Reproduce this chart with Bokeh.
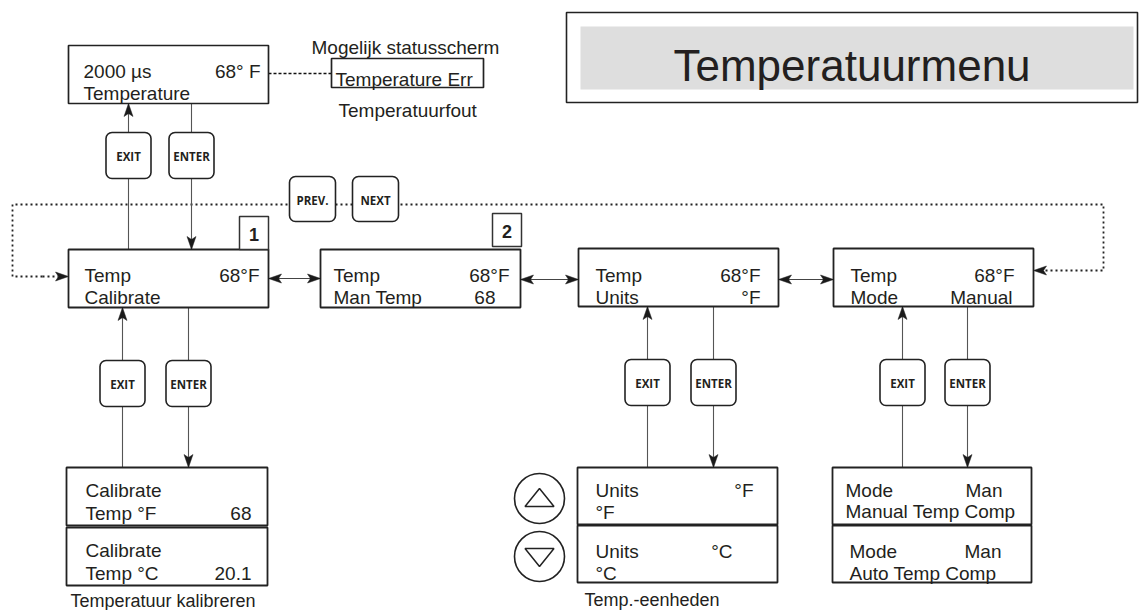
from bokeh.plotting import figure
from bokeh.models import Range1d, ColumnDataSource
from bokeh.embed import file_html
from bokeh.resources import INLINE
from bokeh.core.properties import value

# ---------------- content (texts) ----------------
title_text = "Temperatuurmenu"

status_l1_left = "2000 µs"
status_l1_right = "68° F"
status_l2_left = "Temperature"
alt_status_title = "Mogelijk statusscherm"
alt_status_text = "Temperature Err"
alt_status_caption = "Temperatuurfout"

menu_numbers = ["1", "2"]
menu_l1_left = ["Temp", "Temp", "Temp", "Temp"]
menu_l1_right = ["68°F", "68°F", "68°F", "68°F"]
menu_l2_left = ["Calibrate", "Man Temp", "Units", "Mode"]
menu_l2_right = ["", "68", "°F", "Manual"]

sub_l1_left = ["Calibrate", "Calibrate", "Units", "Units", "Mode", "Mode"]
sub_l1_right = ["", "", "°F", "°C", "Man", "Man"]
sub_l2_left = ["Temp  °F", "Temp  °C", "°F", "°C", "Manual Temp Comp", "Auto Temp Comp"]
sub_l2_right = ["68", "20.1", "", "", "", ""]
sub_captions = ["Temperatuur kalibreren", "Temp.-eenheden"]

key_labels = ["EXIT", "ENTER"]
nav_labels = ["PREV.", "NEXT"]

# ---------------- layout (page pixel coordinates) ----------------
FONT = value("Liberation Sans")
KEYFONT = value("Open Sans")
INK = "#231f20"
GREY_LINE = "#555555"

status_box = dict(l=68, r=268, t=45, b=103)
alt_box = dict(l=331, r=483, t=58, b=87)
title_outer = dict(l=566, r=1137, t=12, b=102)
title_inner = dict(l=580, r=1133, t=26, b=89)

menu_left = [68, 320, 578, 833]
menu_right = [268, 520, 778, 1033]
menu_top = [249, 249, 248, 248]
menu_bottom = [307, 307, 306, 306]
menu_tx_l = [84, 333, 595, 850]
menu_tx_r1 = [259, 509, 760, 1014]
menu_tx_r2 = [259, 495, 760, 1012]
menu_base = [275, 297]

num_left = [239, 492]
num_right = [268, 521]
num_top = [216, 213]
num_bottom = [249, 246]

sub_left = [66, 66, 577, 577, 832, 832]
sub_right = [267, 267, 777, 777, 1031, 1031]
sub_top = [467, 527, 467, 525, 467, 525]
sub_bottom = [525, 585, 524, 582, 524, 582]
sub_tx_l = [85, 85, 595, 595, 845, 849]
sub_tx_r1 = [251, 251, 753, 732, 1002, 1001]
sub_tx_r2 = [251, 251, 753, 732, 1002, 1001]
sub_base1 = [490, 550, 490, 551, 490, 551]
sub_base2 = [513, 573, 512, 573, 511, 573]
caption_x = [70, 584]
caption_y = [600, 599]

# key columns: status->menu1, menu1->calibrate, units, mode
key_exit_cx = [128, 122, 647, 902]
key_enter_cx = [191, 188, 713, 967]
key_top = [132, 360, 359, 359]
key_w, key_h = 45, 46
# connector endpoints (upper box bottom, lower box top) per column
conn_upper = [103, 307, 306, 306]
conn_lower = [249, 467, 467, 467]

nav_cx = [312, 375]
nav_top, nav_bottom = 176, 221

dot_y = 204
dot_left_x, dot_right_x = 12, 1103
dot_left_y, dot_right_y = 276, 270

circle_cx = 539
circle_cy = [498, 556]
circle_d = 50

# ---------------- figure ----------------
p = figure(width=1141, height=610, x_range=Range1d(0, 1141), y_range=Range1d(610, 0),
           x_axis_type=None, y_axis_type=None, output_backend="svg",
           toolbar_location=None, min_border=0)
p.grid.visible = False
p.outline_line_color = None
p.background_fill_color = "white"
p.border_fill_color = "white"


def heads(tips):
    xs, ys = [], []
    L, hw, notch = 13, 4.5, 10
    for tx, ty, ux, uy in tips:
        bx, by = tx - ux * L, ty - uy * L
        nx, ny = -uy, ux
        xs.append([tx, bx + nx * hw, tx - ux * notch, bx - nx * hw])
        ys.append([ty, by + ny * hw, ty - uy * notch, by - ny * hw])
    return xs, ys


def put(xs, ys, texts, align="left", size="19px", style="normal", font=FONT,
        baseline="alphabetic", color=INK):
    keep = [i for i, t in enumerate(texts) if t]
    src = ColumnDataSource(dict(x=[xs[i] for i in keep], y=[ys[i] for i in keep],
                                t=[texts[i] for i in keep]))
    p.text(x="x", y="y", text="t", source=src, text_align=align, text_baseline=baseline,
           text_font=font, text_font_size=size, text_font_style=style, text_color=color)


# --- dotted PREV/NEXT loop ---
p.multi_line(xs=[[dot_left_x + 30, dot_left_x, dot_left_x, dot_right_x, dot_right_x, menu_right[3] + 10]],
             ys=[[dot_left_y, dot_left_y, dot_y, dot_y, dot_right_y, dot_right_y]],
             line_color="#222222", line_width=1.8, line_dash="2 3")
p.segment(x0=[dot_left_x + 30], y0=[dot_left_y], x1=[menu_left[0] - 10], y1=[dot_left_y],
          line_color="#222222", line_width=1.8, line_dash="2 3")

# --- dashed link to alternative status screen ---
p.segment(x0=[status_box["r"]], y0=[73], x1=[alt_box["l"]], y1=[73],
          line_color="#111111", line_width=1.3, line_dash="3 2")

# --- vertical connectors (EXIT up, ENTER down) ---
vx0, vy0, vx1, vy1 = [], [], [], []
tips = []
for i in range(4):
    vx0 += [key_exit_cx[i], key_enter_cx[i]]
    vy0 += [conn_lower[i], conn_upper[i]]
    vx1 += [key_exit_cx[i], key_enter_cx[i]]
    vy1 += [conn_upper[i], conn_lower[i]]
    tips.append((key_exit_cx[i], conn_upper[i], 0, -1))
    tips.append((key_enter_cx[i], conn_lower[i], 0, 1))
p.segment(x0=vx0, y0=vy0, x1=vx1, y1=vy1, line_color=GREY_LINE, line_width=1.1)

# --- horizontal double arrows between menu screens ---
hy = [278, 279, 279]
hx0 = [menu_right[0], menu_right[1], menu_right[2]]
hx1 = [menu_left[1], menu_left[2], menu_left[3]]
p.segment(x0=hx0, y0=hy, x1=hx1, y1=hy, line_color="#444444", line_width=1.1)
for a, b, y in zip(hx0, hx1, hy):
    tips.append((a, y, -1, 0))
    tips.append((b, y, 1, 0))
tips.append((menu_left[0], dot_left_y, 1, 0))
tips.append((menu_right[3], dot_right_y, -1, 0))

# --- title ---
p.quad(left=[title_outer["l"]], right=[title_outer["r"]], top=[title_outer["t"]],
       bottom=[title_outer["b"]], fill_color="white", line_color="#222222", line_width=1.6)
p.quad(left=[title_inner["l"]], right=[title_inner["r"]], top=[title_inner["t"]],
       bottom=[title_inner["b"]], fill_color="#dedede", line_color=None)
put([673], [65], [title_text], size="44px")

# --- status screens ---
p.quad(left=[status_box["l"], alt_box["l"]], right=[status_box["r"], alt_box["r"]],
       top=[status_box["t"], alt_box["t"]], bottom=[status_box["b"], alt_box["b"]],
       fill_color="white", line_color="#222222", line_width=1.7)
put([83, 83], [71, 93], [status_l1_left, status_l2_left])
put([260], [71], [status_l1_right], align="right")
put([311, 335, 338], [47, 79, 110], [alt_status_title, alt_status_text, alt_status_caption])

# --- main menu screens ---
p.quad(left=menu_left, right=menu_right, top=menu_top, bottom=menu_bottom,
       fill_color="white", line_color="#222222", line_width=1.8)
p.quad(left=num_left, right=num_right, top=num_top, bottom=num_bottom,
       fill_color="white", line_color="#333333", line_width=1.5)
put([(a + b) / 2 for a, b in zip(num_left, num_right)],
    [(a + b) / 2 + 1 for a, b in zip(num_top, num_bottom)],
    menu_numbers, align="center", size="18px", style="bold", baseline="middle")
put(menu_tx_l, [menu_base[0]] * 4, menu_l1_left)
put(menu_tx_r1, [menu_base[0]] * 4, menu_l1_right, align="right")
put(menu_tx_l, [menu_base[1]] * 4, menu_l2_left)
put(menu_tx_r2, [menu_base[1]] * 4, menu_l2_right, align="right")

# --- sub screens ---
p.quad(left=sub_left, right=sub_right, top=sub_top, bottom=sub_bottom,
       fill_color="white", line_color="#222222", line_width=1.8)
put(sub_tx_l, sub_base1, sub_l1_left)
put(sub_tx_r1, sub_base1, sub_l1_right, align="right")
put(sub_tx_l, sub_base2, sub_l2_left)
put(sub_tx_r2, sub_base2, sub_l2_right, align="right")
put(caption_x, caption_y, sub_captions, size="18px")

# --- up / down keys ---
p.scatter(x=[circle_cx] * 2, y=circle_cy, size=circle_d, marker="circle",
          fill_color="white", line_color="#222222", line_width=1.6)
tri_w, tri_h = 14.5, 9
p.patches(xs=[[circle_cx, circle_cx - tri_w, circle_cx + tri_w],
              [circle_cx - tri_w, circle_cx + tri_w, circle_cx]],
          ys=[[circle_cy[0] - 10, circle_cy[0] + 8, circle_cy[0] + 8],
              [circle_cy[1] - 8, circle_cy[1] - 8, circle_cy[1] + 10]],
          fill_color=None, line_color="#222222", line_width=1.5)

# --- EXIT / ENTER / PREV / NEXT keys ---
kl, kr, kt, kb, kx, ky, kt_txt = [], [], [], [], [], [], []
for i in range(4):
    for cx, lab in zip([key_exit_cx[i], key_enter_cx[i]], key_labels):
        kl.append(cx - key_w / 2)
        kr.append(cx + key_w / 2)
        kt.append(key_top[i])
        kb.append(key_top[i] + key_h)
        kx.append(cx)
        ky.append(key_top[i] + key_h / 2 + 1)
        kt_txt.append(lab)
for cx, lab in zip(nav_cx, nav_labels):
    kl.append(cx - 23)
    kr.append(cx + 23)
    kt.append(nav_top)
    kb.append(nav_bottom)
    kx.append(cx)
    ky.append((nav_top + nav_bottom) / 2 + 1)
    kt_txt.append(lab)
p.quad(left=kl, right=kr, top=kt, bottom=kb, fill_color="white", line_color="#222222",
       line_width=1.6, border_radius=6)
put(kx, ky, kt_txt, align="center", size="11.5px", style="bold", font=KEYFONT,
    baseline="middle")

# --- arrow heads ---
hxs, hys = heads(tips)
p.patches(xs=hxs, ys=hys, fill_color="#1a1a1a", line_color="#1a1a1a", line_width=0.5)

open("out.html", "w").write(file_html(p, INLINE))
